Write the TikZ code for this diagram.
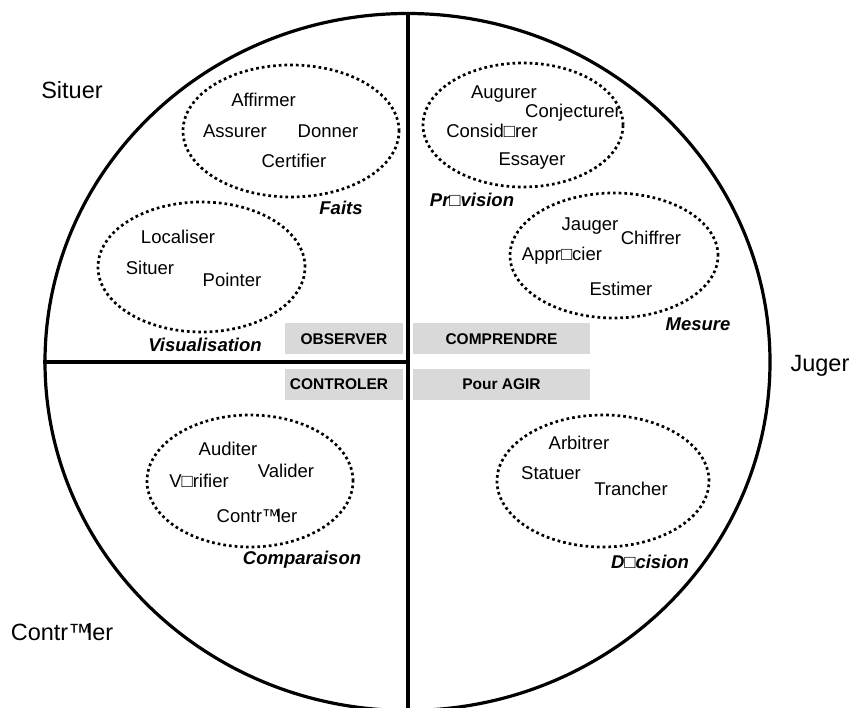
\documentclass[tikz,border=0pt]{standalone}
\usepackage{fontspec}
\setmainfont{Liberation Sans}
\usetikzlibrary{shapes.geometric}
\definecolor{boxgray}{RGB}{217,217,217}
\newcommand{\CtrTM}{Contr™\kern-0.2em ler}
\begin{document}
\begin{tikzpicture}[x=1pt,y=-1pt,
  word/.style={inner sep=0pt, text height=13.2pt, text depth=0pt, font=\fontsize{18.5}{22}\selectfont},
  cat/.style={inner sep=0pt, text height=13.2pt, text depth=0pt, font=\fontsize{18.5}{22}\selectfont\bfseries\itshape},
  big/.style={inner sep=0pt, text height=16.8pt, text depth=0pt, font=\fontsize{23.5}{28}\selectfont},
  graybox/.style={fill=boxgray, minimum height=31pt, inner sep=0pt, font=\fontsize{15.5}{18}\selectfont\bfseries},
  dotell/.style={ellipse, draw, line width=2.7pt, dash pattern=on 2.7pt off 3pt, inner sep=0pt},
  heavy/.style={line width=4pt}
]
\useasboundingbox (0,0) rectangle (854,708);
% outer ellipse
\node[ellipse, draw, line width=3.2pt, minimum width=725pt, minimum height=697pt, inner sep=0pt] (outer) at (407.5,362) {};
\coordinate (vbot) at (408,712);
\coordinate (vtop) at (408,13.5);
\coordinate (mid) at (408,362);
\draw[heavy] (vtop) -- (vbot);
\draw[heavy] (outer.west) -- (mid);

% big labels
\node[big] (lsituer) at (72,90) {Situer};
\node[big] (ljuger) at (820,363) {Juger};
\node[big] (lcontr) at (62,632) {\CtrTM};

% gray boxes
\node[graybox, minimum width=118pt] (observer) at (344,339) {OBSERVER};
\node[graybox, minimum width=177pt] (comprendre) at (501.5,339) {COMPRENDRE};
\node[graybox, minimum width=118pt] (controler) at (344,384.5) {\hspace*{-10pt}CONTROLER};
\node[graybox, minimum width=177pt] (agir) at (501.5,384.5) {Pour AGIR};

% Faits
\node[dotell, minimum width=216pt, minimum height=132pt] (efaits) at (291,131) {};
\node[word] (w1) at (263.5,100) {Affirmer};
\node[word] (w2) at (235,131) {Assurer};
\node[word] (w3) at (328,131) {Donner};
\node[word] (w4) at (294,161) {Certifier};
\node[cat] (cfaits) at (341,208) {Faits};

% Visualisation
\node[dotell, minimum width=207pt, minimum height=130pt] (evisu) at (201.5,267) {};
\node[word] (w5) at (178,237) {Localiser};
\node[word] (w6) at (150,268) {Situer};
\node[word] (w7) at (232,280) {Pointer};
\node[cat] (cvisu) at (205,345) {Visualisation};

% Prevision
\node[dotell, minimum width=200pt, minimum height=124pt] (eprev) at (523,125) {};
\node[word] (w8) at (504,92) {Augurer};
\node[word] (w9) at (573,111) {Conjecturer};
\node[word] (w10) at (492,131) {Consid□rer};
\node[word] (w11) at (532,159) {Essayer};
\node[cat] (cprev) at (472,200) {Pr□vision};

% Mesure
\node[dotell, minimum width=208pt, minimum height=125pt] (emes) at (614,255.5) {};
\node[word] (w12) at (590,224) {Jauger};
\node[word] (w13) at (651,238) {Chiffrer};
\node[word] (w14) at (562,254) {Appr□cier};
\node[word] (w15) at (621,289) {Estimer};
\node[cat] (cmes) at (698,324) {Mesure};

% Comparaison
\node[dotell, minimum width=206pt, minimum height=132pt] (ecomp) at (250,481) {};
\node[word] (w16) at (228,449) {Auditer};
\node[word] (w17) at (286,471) {Valider};
\node[word] (w18) at (199,481) {V□rifier};
\node[word] (w19) at (257,516) {\CtrTM};
\node[cat] (ccomp) at (302,558) {Comparaison};

% Decision
\node[dotell, minimum width=212pt, minimum height=132pt] (edec) at (603,481) {};
\node[word] (w20) at (579,443) {Arbitrer};
\node[word] (w21) at (551,473) {Statuer};
\node[word] (w22) at (631,489) {Trancher};
\node[cat] (cdec) at (650,562) {D□cision};
\end{tikzpicture}
\end{document}
